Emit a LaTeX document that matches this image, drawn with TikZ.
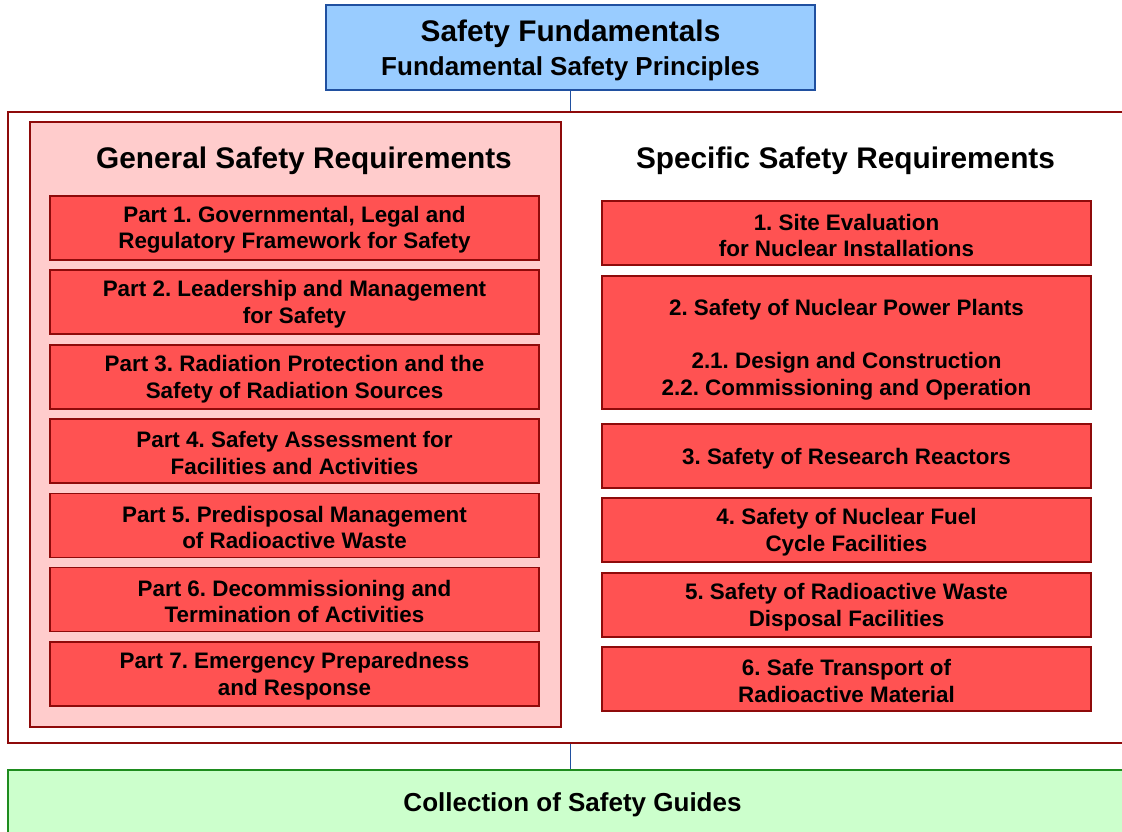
\documentclass[tikz,border=0pt]{standalone}
\usepackage{fontspec}
\setmainfont{Liberation Sans}
\frenchspacing
\definecolor{blueFill}{HTML}{99CCFF}
\definecolor{blueLine}{HTML}{2050A0}
\definecolor{genFill}{HTML}{FFCCCC}
\definecolor{redFill}{HTML}{FF5252}
\definecolor{darkRed}{HTML}{8E0A0A}
\definecolor{greenFill}{HTML}{CCFFCC}
\definecolor{greenLine}{HTML}{1E8C1E}
\tikzset{
  partbox/.style={draw=darkRed, line width=1.6pt, fill=redFill, minimum width=489pt, inner sep=0pt},
  parttext/.style={align=center, inner sep=0pt, font=\fontsize{22.4}{26.5}\selectfont\bfseries},
  headtext/.style={anchor=base, inner sep=0pt, font=\fontsize{29.8}{34}\selectfont\bfseries},
  link/.style={draw=blueLine, line width=1.3pt}
}
\begin{document}
\begin{tikzpicture}[x=1pt,y=-1pt]
\useasboundingbox (0,0) rectangle (1122,832);
% outer frame of requirements
\node[draw=darkRed, line width=1.4pt, fill=white, minimum width=1124pt, minimum height=631pt, inner sep=0pt] (req) at (570,427.5) {};
% green safety guides
\node[draw=greenLine, line width=1.4pt, fill=greenFill, minimum width=1124pt, minimum height=90pt, inner sep=0pt] (sg) at (570,815) {};
\node[anchor=base, inner sep=0pt, font=\fontsize{26}{30}\selectfont\bfseries] (sgt) at (572.5,811) {Collection of Safety Guides};
% top box
\node[draw=blueLine, line width=1.4pt, fill=blueFill, minimum width=489pt, minimum height=85pt, inner sep=0pt] (sf) at (570.5,47.5) {};
\node[align=center, inner sep=0pt, font=\fontsize{26}{34}\selectfont\bfseries] (sft) at ([yshift=-2.5pt]sf.center)
  {{\fontsize{29.8}{34}\selectfont Safety Fundamentals}\\Fundamental Safety Principles};
% connectors
\draw[link] (sf.south) -- (sf.south |- req.north);
\draw[link] (sf.south |- req.south) -- (sf.south |- sg.north);
% general safety requirements
\node[draw=darkRed, line width=1.4pt, fill=genFill, minimum width=531pt, minimum height=605pt, inner sep=0pt] (gen) at (295.5,424.5) {};
\node[headtext] (genh) at (304,168.5) {General Safety Requirements};
\node[headtext] (spch) at (845.5,168.5) {Specific Safety Requirements};
% general parts
\node[partbox, minimum height=64pt] (g1) at (294.5,228) {};
\node[parttext] (g1t) at ([yshift=-2pt]g1.center) {Part 1. Governmental, Legal and\\Regulatory Framework for Safety};
\node[partbox, minimum height=64pt] (g2) at (294.5,302) {};
\node[parttext] (g2t) at ([yshift=-2pt]g2.center) {Part 2. Leadership and Management\\for Safety};
\node[partbox, minimum height=64pt] (g3) at (294.5,377) {};
\node[parttext] (g3t) at ([yshift=-2pt]g3.center) {Part 3. Radiation Protection and the\\Safety of Radiation Sources};
\node[partbox, minimum height=64pt] (g4) at (294.5,451) {};
\node[parttext] (g4t) at ([yshift=-2pt]g4.center) {Part 4. Safety Assessment for\\Facilities and Activities};
\node[partbox, minimum height=64pt] (g5) at (294.5,525.5) {};
\node[parttext] (g5t) at ([yshift=-2pt]g5.center) {Part 5. Predisposal Management\\of Radioactive Waste};
\node[partbox, minimum height=64pt] (g6) at (294.5,599.5) {};
\node[parttext] (g6t) at ([yshift=-2pt]g6.center) {Part 6. Decommissioning and\\Termination of Activities};
\node[partbox, minimum height=64pt] (g7) at (294.5,674) {};
\node[parttext] (g7t) at ([yshift=-2pt]g7.center) {Part 7. Emergency Preparedness\\and Response};
% specific parts
\node[partbox, minimum height=64pt] (s1) at (846.5,233) {};
\node[parttext] (s1t) at ([yshift=-2.5pt]s1.center) {1. Site Evaluation\\for Nuclear Installations};
\node[partbox, minimum height=133pt] (s2) at (846.5,342.5) {};
\node[parttext] (s2t) at ([yshift=-7pt]s2.center) {2. Safety of Nuclear Power Plants\\[27pt]2.1. Design and Construction\\2.2. Commissioning and Operation};
\node[partbox, minimum height=64pt] (s3) at (846.5,456) {};
\node[parttext] (s3t) at ([yshift=-3pt]s3.center) {3. Safety of Research Reactors};
\node[partbox, minimum height=64pt] (s4) at (846.5,530) {};
\node[parttext] (s4t) at ([yshift=-2pt]s4.center) {4. Safety of Nuclear Fuel\\Cycle Facilities};
\node[partbox, minimum height=64pt] (s5) at (846.5,605) {};
\node[parttext] (s5t) at ([yshift=-2pt]s5.center) {5. Safety of Radioactive Waste\\Disposal Facilities};
\node[partbox, minimum height=64pt] (s6) at (846.5,679) {};
\node[parttext] (s6t) at ([yshift=-2pt]s6.center) {6. Safe Transport of\\Radioactive Material};
\end{tikzpicture}
\end{document}
